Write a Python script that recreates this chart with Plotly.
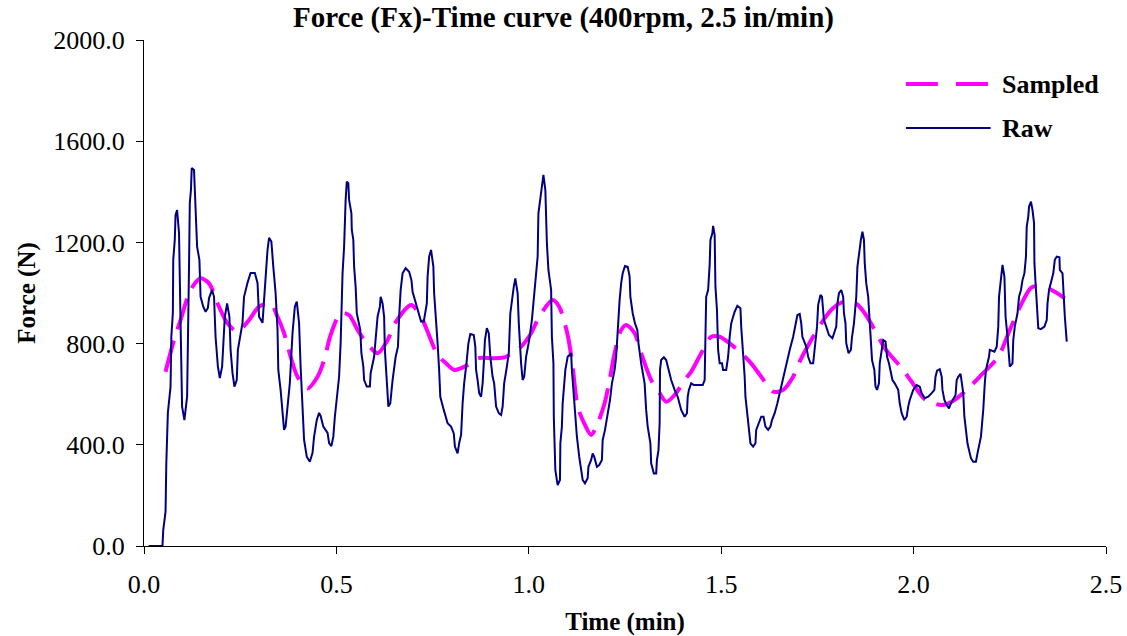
import plotly.graph_objects as go

# Raw force signal (Fx) over time
raw_time = [
    0.012, 0.048, 0.050, 0.056, 0.058, 0.062, 0.069, 0.071, 0.075, 0.076, 0.080, 0.082, 0.086, 0.091,
    0.095, 0.099, 0.105, 0.108, 0.112, 0.117, 0.119, 0.122, 0.124, 0.130, 0.134, 0.138, 0.144, 0.147,
    0.154, 0.160, 0.166, 0.169, 0.177, 0.182, 0.186, 0.192, 0.197, 0.203, 0.210, 0.216, 0.222, 0.225,
    0.230, 0.235, 0.241, 0.244, 0.256, 0.260, 0.269, 0.277, 0.288, 0.295, 0.299, 0.308, 0.312, 0.316,
    0.321, 0.325, 0.331, 0.336, 0.342, 0.347, 0.349, 0.355, 0.360, 0.364, 0.368, 0.373, 0.379, 0.386,
    0.392, 0.397, 0.403, 0.407, 0.412, 0.416, 0.423, 0.431, 0.438, 0.442, 0.449, 0.455, 0.459, 0.466,
    0.477, 0.481, 0.487, 0.492, 0.496, 0.501, 0.507, 0.511, 0.516, 0.520, 0.522, 0.524, 0.527, 0.531,
    0.533, 0.539, 0.540, 0.544, 0.546, 0.550, 0.553, 0.562, 0.565, 0.570, 0.572, 0.579, 0.587, 0.589,
    0.598, 0.602, 0.607, 0.613, 0.615, 0.620, 0.624, 0.626, 0.631, 0.635, 0.640, 0.646, 0.654, 0.660,
    0.663, 0.667, 0.672, 0.680, 0.689, 0.695, 0.698, 0.707, 0.714, 0.720, 0.727, 0.731, 0.735, 0.737,
    0.741, 0.746, 0.752, 0.754, 0.759, 0.763, 0.767, 0.770, 0.779, 0.789, 0.798, 0.805, 0.808, 0.815,
    0.819, 0.824, 0.828, 0.832, 0.838, 0.843, 0.848, 0.857, 0.861, 0.863, 0.867, 0.871, 0.876, 0.880,
    0.883, 0.886, 0.891, 0.896, 0.900, 0.906, 0.910, 0.915, 0.922, 0.928, 0.932, 0.936, 0.943, 0.948,
    0.952, 0.956, 0.961, 0.965, 0.971, 0.974, 0.977, 0.980, 0.984, 0.988, 0.993, 1.001, 1.008, 1.014,
    1.019, 1.023, 1.025, 1.030, 1.034, 1.038, 1.043, 1.045, 1.047, 1.051, 1.058, 1.060, 1.064, 1.065,
    1.066, 1.069, 1.075, 1.081, 1.082, 1.086, 1.088, 1.092, 1.095, 1.101, 1.110, 1.112, 1.117, 1.120,
    1.125, 1.131, 1.136, 1.140, 1.146, 1.153, 1.155, 1.162, 1.166, 1.170, 1.177, 1.183, 1.190, 1.192,
    1.198, 1.205, 1.211, 1.216, 1.223, 1.227, 1.231, 1.236, 1.240, 1.244, 1.250, 1.257, 1.262, 1.264,
    1.270, 1.276, 1.282, 1.285, 1.292, 1.301, 1.305, 1.309, 1.316, 1.318, 1.325, 1.331, 1.333, 1.337,
    1.340, 1.341, 1.344, 1.351, 1.357, 1.361, 1.370, 1.379, 1.387, 1.396, 1.405, 1.411, 1.413, 1.416,
    1.422, 1.429, 1.439, 1.452, 1.457, 1.458, 1.461, 1.466, 1.470, 1.472, 1.477, 1.479, 1.483, 1.485,
    1.489, 1.492, 1.496, 1.502, 1.505, 1.513, 1.518, 1.522, 1.526, 1.531, 1.535, 1.542, 1.550, 1.552,
    1.557, 1.561, 1.563, 1.568, 1.571, 1.576, 1.583, 1.589, 1.591, 1.597, 1.604, 1.610, 1.615, 1.622,
    1.628, 1.632, 1.639, 1.646, 1.652, 1.661, 1.669, 1.678, 1.687, 1.693, 1.698, 1.704, 1.708, 1.711,
    1.717, 1.721, 1.726, 1.732, 1.739, 1.743, 1.749, 1.752, 1.758, 1.762, 1.767, 1.773, 1.780, 1.789,
    1.795, 1.799, 1.802, 1.806, 1.812, 1.817, 1.819, 1.823, 1.825, 1.831, 1.837, 1.840, 1.845, 1.851,
    1.854, 1.858, 1.863, 1.867, 1.871, 1.873, 1.877, 1.882, 1.886, 1.890, 1.892, 1.898, 1.901, 1.905,
    1.910, 1.912, 1.917, 1.921, 1.927, 1.931, 1.936, 1.941, 1.945, 1.951, 1.960, 1.964, 1.969, 1.976,
    1.982, 1.986, 1.990, 1.999, 2.008, 2.016, 2.021, 2.029, 2.038, 2.047, 2.054, 2.057, 2.061, 2.068,
    2.073, 2.075, 2.080, 2.086, 2.092, 2.097, 2.103, 2.109, 2.112, 2.116, 2.122, 2.126, 2.129, 2.132,
    2.135, 2.140, 2.144, 2.149, 2.155, 2.162, 2.166, 2.170, 2.175, 2.178, 2.181, 2.185, 2.188, 2.192,
    2.196, 2.198, 2.203, 2.210, 2.216, 2.220, 2.222, 2.227, 2.231, 2.236, 2.239, 2.244, 2.248, 2.250,
    2.257, 2.259, 2.263, 2.270, 2.274, 2.279, 2.283, 2.288, 2.292, 2.294, 2.298, 2.300, 2.305, 2.309,
    2.313, 2.314, 2.317, 2.320, 2.322, 2.324, 2.331, 2.340, 2.346, 2.348, 2.352, 2.357, 2.363, 2.367,
    2.372, 2.379, 2.380, 2.387, 2.389, 2.393, 2.398,
]
raw_force = [
    0, 0, 63, 136, 328, 526, 630, 827, 921, 1131, 1210, 1308, 1328, 1237,
    882, 551, 498, 551, 590, 1104, 1356, 1407, 1494, 1486, 1289, 1183, 1131, 985,
    946, 926, 941, 980, 1012, 985, 827, 709, 664, 709, 906, 959, 906, 775,
    684, 630, 656, 775, 882, 985, 1040, 1079, 1079, 1040, 906, 882, 972, 1065,
    1170, 1218, 1203, 1104, 1000, 854, 696, 617, 538, 459, 472, 565, 644, 842,
    946, 966, 882, 709, 551, 419, 353, 333, 368, 432, 498, 526, 514, 472,
    447, 407, 395, 432, 511, 590, 669, 801, 1078, 1183, 1341, 1368, 1440, 1434,
    1368, 1315, 1249, 1210, 1104, 1025, 920, 854, 762, 709, 656, 630, 630, 683,
    748, 814, 906, 946, 985, 959, 906, 775, 669, 551, 564, 656, 748, 788,
    906, 1012, 1078, 1098, 1084, 1051, 1005, 953, 920, 887, 887, 920, 959, 1065,
    1144, 1170, 1104, 999, 906, 801, 696, 590, 538, 485, 472, 445, 393, 366,
    406, 439, 564, 643, 722, 801, 838, 834, 788, 696, 656, 604, 590, 643,
    722, 814, 861, 841, 748, 669, 643, 551, 525, 518, 551, 643, 709, 762,
    920, 972, 1025, 1058, 999, 880, 775, 722, 656, 669, 748, 814, 893, 985,
    1091, 1144, 1315, 1368, 1420, 1467, 1407, 1302, 1197, 1091, 1012, 827, 722, 511,
    419, 300, 241, 261, 406, 472, 564, 656, 696, 748, 762, 696, 590, 525,
    432, 353, 300, 261, 248, 268, 313, 340, 366, 353, 313, 320, 340, 419,
    459, 525, 577, 643, 696, 748, 867, 972, 1038, 1078, 1107, 1104, 1065, 985,
    920, 880, 854, 801, 722, 643, 538, 472, 406, 327, 287, 287, 340, 379,
    485, 696, 735, 746, 735, 709, 656, 617, 590, 538, 511, 525, 590, 617,
    643, 636, 636, 636, 656, 775, 985, 1012, 1111, 1210, 1236, 1265, 1229, 1025,
    933, 775, 722, 722, 696, 696, 748, 827, 880, 906, 926, 949, 940, 867,
    775, 669, 590, 511, 472, 406, 393, 406, 459, 485, 511, 511, 472, 459,
    472, 498, 525, 564, 604, 656, 722, 775, 827, 867, 913, 917, 880, 827,
    801, 788, 748, 722, 722, 788, 867, 953, 992, 985, 893, 867, 834, 821,
    854, 867, 959, 999, 1012, 985, 920, 880, 801, 762, 775, 827, 880, 985,
    1104, 1157, 1210, 1242, 1210, 1118, 1038, 985, 880, 801, 735, 696, 630, 617,
    643, 722, 775, 814, 808, 748, 722, 683, 656, 643, 617, 564, 525, 498,
    511, 551, 577, 617, 636, 630, 604, 584, 590, 604, 617, 669, 693, 699,
    669, 617, 577, 557, 544, 564, 584, 597, 656, 669, 680, 643, 604, 511,
    459, 406, 379, 347, 333, 333, 366, 393, 432, 485, 538, 643, 696, 722,
    748, 775, 772, 768, 788, 867, 985, 1065, 1111, 1065, 906, 827, 762, 709,
    722, 814, 867, 920, 985, 1012, 1051, 1078, 1144, 1262, 1302, 1341, 1361, 1328,
    1276, 1118, 1038, 959, 906, 861, 857, 867, 893, 959, 1012, 1038, 1078, 1131,
    1144, 1141, 1091, 1078, 999, 906, 808,
]

# Sampled force curve
sampled_time = [
    0.056, 0.078, 0.095, 0.121, 0.147, 0.169, 0.191, 0.217, 0.243, 0.273, 0.299, 0.329, 0.347, 0.364,
    0.381, 0.399, 0.425, 0.451, 0.468, 0.485, 0.511, 0.533, 0.555, 0.576, 0.607, 0.633, 0.652, 0.694,
    0.720, 0.737, 0.763, 0.785, 0.806, 0.841, 0.867, 0.910, 0.941, 0.962, 0.980, 1.006, 1.027, 1.062,
    1.079, 1.101, 1.114, 1.127, 1.144, 1.162, 1.179, 1.197, 1.210, 1.223, 1.240, 1.253, 1.275, 1.292,
    1.318, 1.340, 1.357, 1.379, 1.405, 1.422, 1.448, 1.474, 1.496, 1.522, 1.552, 1.578, 1.604, 1.635,
    1.661, 1.687, 1.704, 1.734, 1.760, 1.786, 1.812, 1.851, 1.873, 1.899, 1.925, 1.951, 1.969, 1.995,
    2.029, 2.073, 2.099, 2.133, 2.176, 2.220, 2.250, 2.281, 2.307, 2.341, 2.367, 2.393,
]
sampled_force = [
    689, 814, 893, 1012, 1058, 1038, 959, 880, 847, 893, 946, 959, 906, 841,
    748, 669, 623, 669, 735, 834, 920, 913, 854, 808, 762, 814, 880, 953,
    906, 847, 755, 722, 696, 715, 742, 742, 748, 768, 788, 841, 906, 972,
    946, 834, 709, 551, 485, 439, 485, 564, 656, 762, 854, 874, 841, 762,
    656, 604, 570, 597, 656, 689, 762, 827, 827, 801, 762, 722, 669, 610,
    617, 669, 729, 814, 880, 933, 962, 957, 920, 854, 782, 735, 704, 649,
    580, 557, 570, 610, 676, 748, 854, 959, 1023, 1023, 1005, 979,
]

y_ticks = [0, 400, 800, 1200, 1600, 2000]
x_ticks = [0.0, 0.5, 1.0, 1.5, 2.0, 2.5]

SERIF = "Liberation Serif, Times New Roman, serif"
MAGENTA = "#FF00FF"
NAVY = "#000080"

fig = go.Figure()

fig.add_trace(go.Scatter(
    x=sampled_time, y=sampled_force, name="Sampled", mode="lines",
    line=dict(color=MAGENTA, width=4, dash="32px,12px", shape="spline", smoothing=0.8),
    showlegend=False,
))
fig.add_trace(go.Scatter(
    x=raw_time, y=raw_force, name="Raw", mode="lines",
    line=dict(color=NAVY, width=2),
    showlegend=False,
))

# Legend keys drawn beside the upper right corner of the plot
legend_keys = [
    ("Sampled", MAGENTA, 4, "32px,18px", 0.913),
    ("Raw", NAVY, 2, "solid", 0.826),
]
for label, color, width, dash, ypos in legend_keys:
    fig.add_shape(type="line", xref="paper", yref="paper",
                  x0=0.792, x1=0.880, y0=ypos, y1=ypos,
                  line=dict(color=color, width=width, dash=dash))
    fig.add_annotation(xref="paper", yref="paper", x=0.890, y=ypos,
                       xanchor="left", yanchor="middle", showarrow=False,
                       text=label,
                       font=dict(family=SERIF, size=26, color="black", weight="bold"))

fig.update_layout(
    width=1127, height=636,
    margin=dict(l=144, r=21, t=40, b=90),
    paper_bgcolor="white", plot_bgcolor="white",
    title=dict(text="Force (Fx)-Time curve (400rpm, 2.5 in/min)",
               x=0.5, xref="container", y=0.973, yref="container",
               xanchor="center", yanchor="middle",
               font=dict(family=SERIF, size=29, color="black", weight="bold")),
    font=dict(family=SERIF, color="black"),
)

fig.update_xaxes(
    range=[0, 2.5], tickvals=x_ticks, ticktext=[f"{v:.1f}" for v in x_ticks],
    automargin=False,
    showline=True, linecolor="black", linewidth=1,
    ticks="outside", ticklen=7, tickcolor="black", tickwidth=1,
    ticklabelstandoff=8,
    showgrid=False, zeroline=False,
    tickfont=dict(family=SERIF, size=26, color="black"),
    title=dict(text="Time (min)", standoff=14,
               font=dict(family=SERIF, size=25, color="black", weight="bold")),
)
fig.update_yaxes(
    range=[0, 2000], tickvals=y_ticks, ticktext=[f"{v:.1f}" for v in y_ticks],
    automargin=False,
    showline=True, linecolor="black", linewidth=1,
    ticks="outside", ticklen=7, tickcolor="black", tickwidth=1,
    ticklabelstandoff=6,
    showgrid=False, zeroline=False,
    tickfont=dict(family=SERIF, size=26, color="black"),
    title=dict(text="Force (N)", standoff=10,
               font=dict(family=SERIF, size=25, color="black", weight="bold")),
)

fig.write_html("out.html")
